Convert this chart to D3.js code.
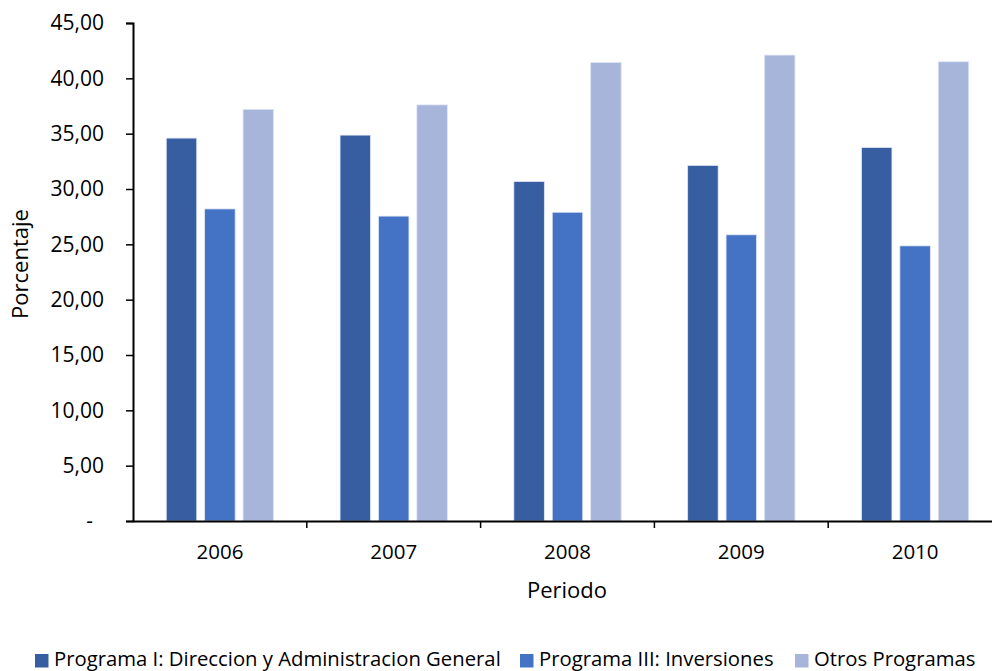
<!DOCTYPE html>
<html>
<head>
<meta charset="utf-8">
<script src="https://cdn.jsdelivr.net/npm/d3@7"></script>
<style>
  html, body { margin: 0; padding: 0; background: #fff; }
  svg text { font-family: "Open Sans", "Noto Sans", sans-serif; fill: #000; }
</style>
</head>
<body>
<svg id="chart" width="992" height="671"></svg>
<script>
// Periods on the x axis
const periods = ["2006", "2007", "2008", "2009", "2010"];
// Series names, in drawing order
const seriesNames = [
  "Programa I: Direccion y Administracion General",
  "Programa III: Inversiones",
  "Otros Programas"
];
// Percentage per program and period
const programaI   = [34.60, 34.87, 30.68, 32.13, 33.75];
const programaIII = [28.20, 27.55, 27.90, 25.86, 24.86];
const otros       = [37.20, 37.60, 41.44, 42.10, 41.50];
// Y axis tick values
const yTicks = [0, 5, 10, 15, 20, 25, 30, 35, 40, 45];

const seriesValues = [programaI, programaIII, otros];
const colors = ["#365ea0", "#4472c4", "#a8b5da"];

const svg = d3.select("#chart");
const margin = { left: 133, right: -10, top: 23, bottom: 150 };
const W = 992, H = 671;

const x = d3.scaleBand()
  .domain(periods)
  .range([margin.left, W - margin.right])
  .paddingInner(0)
  .paddingOuter(0);

const y = d3.scaleLinear()
  .domain([0, 45])
  .range([H - margin.bottom, margin.top]);

// inner band for the three bars of each period
const barW = 30.5, gap = 7.9;
const sub = d3.scaleBand()
  .domain(d3.range(seriesNames.length))
  .range([0, barW * 3 + gap * 2])
  .paddingInner(gap / (barW + gap))
  .paddingOuter(0);

const groupOffset = (x.bandwidth() - (barW * 3 + gap * 2)) / 2;

// bars
const groups = svg.append("g")
  .selectAll("g")
  .data(periods)
  .join("g")
  .attr("transform", d => `translate(${x(d) + groupOffset},0)`);

groups.selectAll("rect")
  .data((p, i) => seriesValues.map((vals, s) => ({ s, v: vals[i] })))
  .join("rect")
  .attr("x", d => sub(d.s))
  .attr("width", sub.bandwidth())
  .attr("y", d => y(d.v))
  .attr("height", d => y(0) - y(d.v))
  .attr("fill", d => colors[d.s])
  .attr("stroke", "#dfe6f4")
  .attr("stroke-width", 0.8);

// y axis
const yAxis = d3.axisLeft(y)
  .tickValues(yTicks)
  .tickSize(7)
  .tickPadding(22)
  .tickFormat(d => d === 0 ? "-" : d3.format(".2f")(d).replace(".", ","));

const gy = svg.append("g")
  .attr("transform", `translate(${margin.left},0)`)
  .call(yAxis);
gy.select(".domain").attr("stroke", "#000").attr("stroke-width", 2);
gy.selectAll(".tick line").attr("stroke", "#000").attr("stroke-width", 1.5);
gy.selectAll(".tick text")
  .style("font-size", "21px")
  .attr("dx", d => d === 0 ? -11 : 0);

// x axis
const xAxis = d3.axisBottom(x).tickSize(0).tickPadding(23);
const gx = svg.append("g")
  .attr("transform", `translate(0,${y(0)})`)
  .call(xAxis);
gx.select(".domain").attr("stroke", "#000").attr("stroke-width", 2);
gx.selectAll(".tick text").style("font-size", "20.5px");

// category boundary ticks
svg.append("g")
  .selectAll("line")
  .data(periods.slice(1))
  .join("line")
  .attr("x1", d => x(d)).attr("x2", d => x(d))
  .attr("y1", y(0)).attr("y2", y(0) + 7)
  .attr("stroke", "#000").attr("stroke-width", 1.5);

// axis titles
svg.append("text")
  .attr("x", 567).attr("y", 598)
  .attr("text-anchor", "middle")
  .style("font-size", "22px")
  .text("Periodo");

svg.append("text")
  .attr("transform", "translate(28,264) rotate(-90)")
  .attr("text-anchor", "middle")
  .style("font-size", "22px")
  .text("Porcentaje");

// legend
const legendX = [35, 520, 795];
const legend = svg.append("g")
  .selectAll("g")
  .data(seriesNames)
  .join("g")
  .attr("transform", (d, i) => `translate(${legendX[i]},654)`);
legend.append("rect")
  .attr("width", 13.5).attr("height", 13.5)
  .attr("fill", (d, i) => colors[i]);
legend.append("text")
  .attr("x", 19).attr("y", 11.5)
  .style("font-size", "20.3px")
  .text(d => d);
</script>
</body>
</html>
